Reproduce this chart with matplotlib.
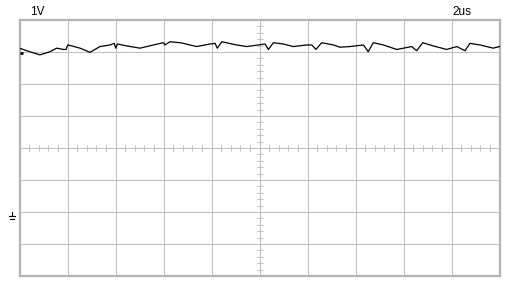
import numpy as np
import matplotlib
matplotlib.use('Agg')
import matplotlib.pyplot as plt

# trace: time in us, voltage in V (ground = 0 V)
t_us = [0.00, 0.30, 0.85, 1.27, 1.55, 1.83, 1.94, 2.01, 2.18, 2.52, 2.94, 3.35,
        3.77, 3.95, 4.01, 4.08, 4.47, 5.02, 5.58, 5.99, 6.06, 6.27, 6.69, 6.82,
        7.38, 7.94, 8.15, 8.24, 8.43, 9.05, 9.47, 9.95, 10.23, 10.37, 10.58,
        10.99, 11.41, 11.97, 12.18, 12.35, 12.59, 13.08, 13.35, 13.77, 14.33,
        14.53, 14.74, 15.16, 15.72, 16.34, 16.55, 16.80, 17.24, 17.80, 18.22,
        18.56, 18.77, 19.19, 19.74, 20.00]
volts = [5.12, 5.04, 4.91, 5.01, 5.12, 5.08, 5.08, 5.22, 5.19, 5.12, 4.99, 5.17,
         5.22, 5.27, 5.12, 5.25, 5.19, 5.12, 5.22, 5.29, 5.22, 5.32, 5.29, 5.27,
         5.17, 5.25, 5.27, 5.12, 5.32, 5.22, 5.17, 5.22, 5.25, 5.08, 5.29,
         5.25, 5.17, 5.22, 5.22, 5.08, 5.29, 5.22, 5.15, 5.17, 5.22,
         5.01, 5.29, 5.22, 5.08, 5.17, 5.04, 5.29, 5.19, 5.08, 5.17,
         5.04, 5.27, 5.22, 5.12, 5.17]

volts_per_div = 1
us_per_div = 2
trig_level = 4.96
ch_label = '1V'
tb_label = '2us'

W, H = 520, 299
fig = plt.figure(figsize=(W / 100, H / 100), dpi=100)
ax = fig.add_axes([19.5 / W, (H - 276) / H, 480 / W, 256 / H])

ax.set_xlim(0, 10 * us_per_div)
ax.set_ylim(-2 * volts_per_div, 6 * volts_per_div)

grid_c = '#c0c0c0'
xt = np.arange(0, 10 * us_per_div + 0.01, us_per_div)
yt = np.arange(-2, 6.01, volts_per_div)
for x in xt[1:-1]:
    ax.axvline(x, color=grid_c, lw=0.75, zorder=1)
for y in yt[1:-1]:
    ax.axhline(y, color=grid_c, lw=0.75, zorder=1)

# small ticks on the centre lines
cx, cy = 5 * us_per_div, 2 * volts_per_div
sub_x = np.arange(0, 10 * us_per_div + 0.01, us_per_div / 5)
sub_y = np.arange(-2, 6.01, volts_per_div / 5)
ax.plot(sub_x, np.full_like(sub_x, cy), ls='none', marker='|', ms=5,
        mew=0.75, color=grid_c, zorder=1)
ax.plot(np.full_like(sub_y, cx), sub_y, ls='none', marker='_', ms=5,
        mew=0.75, color=grid_c, zorder=1)

ax.set_xticks([])
ax.set_yticks([])
for s in ax.spines.values():
    s.set_color('#b4b4b4')
    s.set_linewidth(1.6)

ax.plot(t_us, volts, color='black', lw=0.9, zorder=3)

# trigger level marker and ground symbol
ax.plot([0, 0.15], [trig_level, trig_level], color='black', lw=2,
        solid_capstyle='butt', clip_on=False, zorder=4)
gx = -0.31
ax.plot([gx, gx], [0, -0.12], color='black', lw=0.8, clip_on=False)
ax.plot([gx - 0.13, gx + 0.13], [-0.13, -0.13], color='black', lw=0.8, clip_on=False)
ax.plot([gx - 0.07, gx + 0.07], [-0.22, -0.22], color='black', lw=0.8, clip_on=False)

fig.text(30 / W, 1 - 15 / H, ch_label, fontsize=8.5, family='Liberation Sans')
fig.text(452 / W, 1 - 15 / H, tb_label, fontsize=8.5, family='Liberation Sans')

fig.savefig('out.png', dpi=100, facecolor='white')
